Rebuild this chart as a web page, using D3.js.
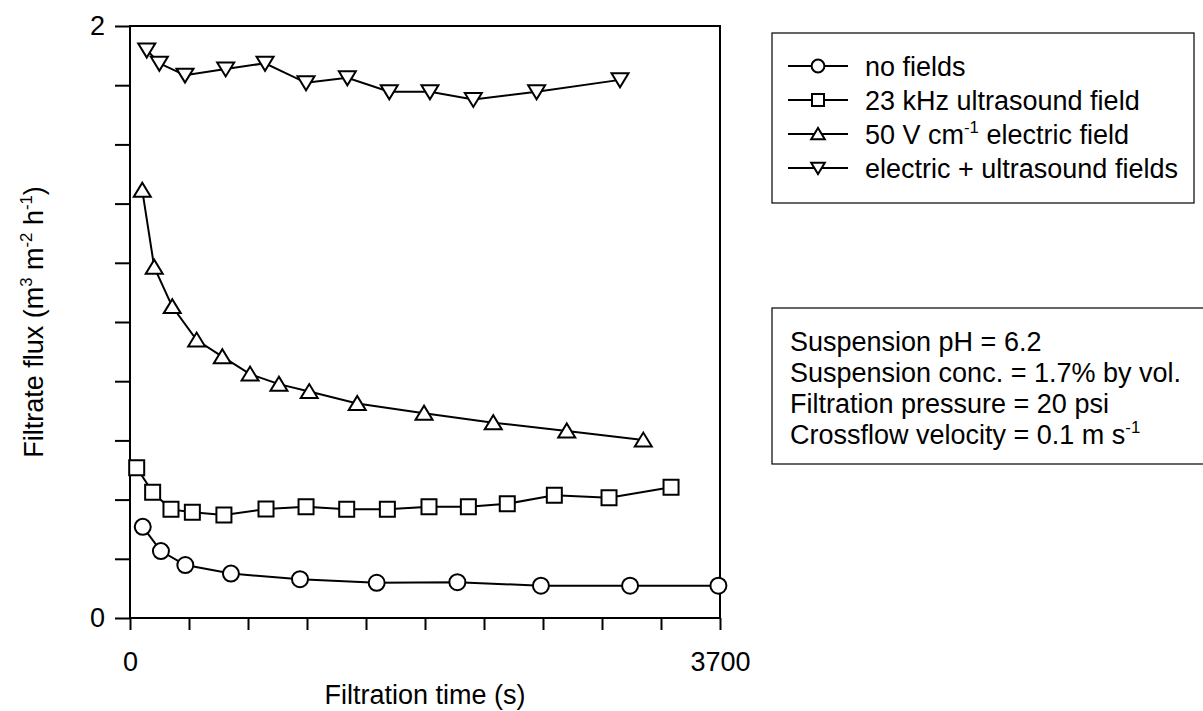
<!DOCTYPE html>
<html>
<head>
<meta charset="utf-8">
<script src="https://cdn.jsdelivr.net/npm/d3@7"></script>
<style>
  body { margin: 0; background: #fff; }
  svg { display: block; font-family: "Liberation Sans", Arial, sans-serif; }
</style>
</head>
<body>
<svg id="chart" width="1203" height="711"></svg>
<script>
// ---- data ----
const xTickValues = [0, 370, 740, 1110, 1480, 1850, 2220, 2590, 2960, 3330, 3700];
const xTickLabels = ["0", "", "", "", "", "", "", "", "", "", "3700"];
const yTickValues = [0, 0.2, 0.4, 0.6, 0.8, 1.0, 1.2, 1.4, 1.6, 1.8, 2.0];
const yTickLabels = ["0", "", "", "", "", "", "", "", "", "", "2"];

const noFieldsTime = [80, 194, 347, 633, 1066, 1547, 2053, 2577, 3136, 3690];
const noFieldsFlux = [0.308, 0.226, 0.179, 0.150, 0.131, 0.119, 0.121, 0.109, 0.109, 0.109];

const ultrasoundTime = [42, 142, 257, 391, 589, 853, 1104, 1359, 1614, 1875, 2122, 2366, 2661, 3004, 3393];
const ultrasoundFlux = [0.508, 0.425, 0.367, 0.357, 0.348, 0.368, 0.376, 0.367, 0.367, 0.376, 0.376, 0.386, 0.415, 0.406, 0.442];

const electricTime = [77, 152, 265, 418, 579, 753, 934, 1124, 1425, 1844, 2278, 2739, 3219];
const electricFlux = [1.445, 1.185, 1.052, 0.939, 0.883, 0.824, 0.790, 0.765, 0.725, 0.692, 0.660, 0.632, 0.601];

const combinedTime = [105, 184, 345, 600, 847, 1104, 1363, 1626, 1881, 2153, 2550, 3073];
const combinedFlux = [1.919, 1.874, 1.834, 1.855, 1.874, 1.808, 1.825, 1.778, 1.778, 1.752, 1.778, 1.818];

const seriesNames = ["no fields", "23 kHz ultrasound field", "50 V cm|-1| electric field", "electric + ultrasound fields"];
const seriesMarkers = ["circle", "square", "triangleUp", "triangleDown"];
const noteLines = ["Suspension pH = 6.2", "Suspension conc. = 1.7% by vol.", "Filtration pressure = 20 psi", "Crossflow velocity = 0.1 m s|-1|"];

const xTitle = "Filtration time (s)";
const yTitle = "Filtrate flux (m|3| m|-2| h|-1|)";

// ---- layout ----
const FS = 27;
const svg = d3.select("#chart");
const L = 130, R = 720, T = 26, B = 618;
const x = d3.scaleLinear().domain([0, 3700]).range([L, R]);
const y = d3.scaleLinear().domain([0, 2]).range([B, T]);

const series = [
  {name: seriesNames[0], marker: seriesMarkers[0], t: noFieldsTime, v: noFieldsFlux},
  {name: seriesNames[1], marker: seriesMarkers[1], t: ultrasoundTime, v: ultrasoundFlux},
  {name: seriesNames[2], marker: seriesMarkers[2], t: electricTime, v: electricFlux},
  {name: seriesNames[3], marker: seriesMarkers[3], t: combinedTime, v: combinedFlux}
];

function markerPath(type, s) {
  switch (type) {
    case "circle": return `M ${-8*s},0 A ${8*s},${8*s} 0 1,0 ${8*s},0 A ${8*s},${8*s} 0 1,0 ${-8*s},0 Z`;
    case "square": return `M ${-7.5*s},${-7.5*s} H ${7.5*s} V ${7.5*s} H ${-7.5*s} Z`;
    case "triangleUp": return `M ${-8.5*s},${6.5*s} L ${8.5*s},${6.5*s} L 0,${-7.5*s} Z`;
    case "triangleDown": return `M ${-8.5*s},${-6.5*s} L ${8.5*s},${-6.5*s} L 0,${7.5*s} Z`;
  }
}

// text with superscripts, marked by |...|
function richText(sel, str, fontSize) {
  const parts = str.split("|");
  parts.forEach((p, i) => {
    if (!p) return;
    if (i % 2 === 1) {
      sel.append("tspan").attr("font-size", fontSize * 0.62).attr("dy", -fontSize * 0.4).text(p);
    } else {
      const ts = sel.append("tspan").text(p);
      if (i > 0) ts.attr("dy", fontSize * 0.4);
    }
  });
}

// ---- axes ----
const yAxis = d3.axisLeft(y).tickValues(yTickValues).tickSize(15).tickPadding(10)
  .tickFormat((d, i) => yTickLabels[i]);
const gy = svg.append("g").attr("transform", `translate(${L},0)`).call(yAxis);
gy.select(".domain").remove();
gy.selectAll(".tick line").attr("stroke", "#000").attr("stroke-width", 2);
gy.selectAll(".tick text").attr("font-size", FS).attr("fill", "#000")
  .attr("font-family", '"Liberation Sans", Arial, sans-serif');

const xAxis = d3.axisBottom(x).tickValues(xTickValues).tickSize(12).tickPadding(22)
  .tickFormat((d, i) => xTickLabels[i]);
const gx = svg.append("g").attr("transform", `translate(0,${B})`).call(xAxis);
gx.select(".domain").remove();
gx.selectAll(".tick line").attr("stroke", "#000").attr("stroke-width", 2);
gx.selectAll(".tick text").attr("font-size", FS).attr("fill", "#000")
  .attr("font-family", '"Liberation Sans", Arial, sans-serif');

// frame
svg.append("rect").attr("x", L).attr("y", T).attr("width", R - L).attr("height", B - T)
  .attr("fill", "none").attr("stroke", "#000").attr("stroke-width", 2);

// titles
const xt = svg.append("text").attr("x", (L + R) / 2).attr("y", 704)
  .attr("text-anchor", "middle").attr("font-size", FS).attr("fill", "#000");
richText(xt, xTitle, FS);
const yt = svg.append("text").attr("transform", `translate(43,${(T + B) / 2}) rotate(-90)`)
  .attr("text-anchor", "middle").attr("font-size", FS).attr("fill", "#000");
richText(yt, yTitle, FS);

// ---- series ----
const line = d3.line().x(d => x(d[0])).y(d => y(d[1]));
series.forEach(s => {
  const pts = s.t.map((t, i) => [t, s.v[i]]);
  svg.append("path").attr("d", line(pts)).attr("fill", "none")
    .attr("stroke", "#000").attr("stroke-width", 2);
  svg.append("g").selectAll("path").data(pts).join("path")
    .attr("transform", d => `translate(${x(d[0])},${y(d[1])})`)
    .attr("d", markerPath(s.marker, 1))
    .attr("fill", "#fff").attr("stroke", "#000").attr("stroke-width", 2);
});

// ---- legend ----
const lg = svg.append("g");
lg.append("rect").attr("x", 772).attr("y", 33).attr("width", 422).attr("height", 170)
  .attr("fill", "#fff").attr("stroke", "#000").attr("stroke-width", 1.2);
series.forEach((s, i) => {
  const cy = 66 + i * 34;
  lg.append("line").attr("x1", 788).attr("x2", 848).attr("y1", cy).attr("y2", cy)
    .attr("stroke", "#000").attr("stroke-width", 2);
  lg.append("path").attr("transform", `translate(818,${cy})`).attr("d", markerPath(s.marker, 0.8))
    .attr("fill", "#fff").attr("stroke", "#000").attr("stroke-width", 2);
  const t = lg.append("text").attr("x", 865).attr("y", cy + 10).attr("font-size", FS).attr("fill", "#000");
  richText(t, s.name, FS);
});

// ---- note box ----
const nb = svg.append("g");
nb.append("rect").attr("x", 772).attr("y", 308).attr("width", 440).attr("height", 156)
  .attr("fill", "#fff").attr("stroke", "#000").attr("stroke-width", 1.2);
noteLines.forEach((ln, i) => {
  const t = nb.append("text").attr("x", 790).attr("y", 351 + i * 31).attr("font-size", FS).attr("fill", "#000");
  richText(t, ln, FS);
});
</script>
</body>
</html>
